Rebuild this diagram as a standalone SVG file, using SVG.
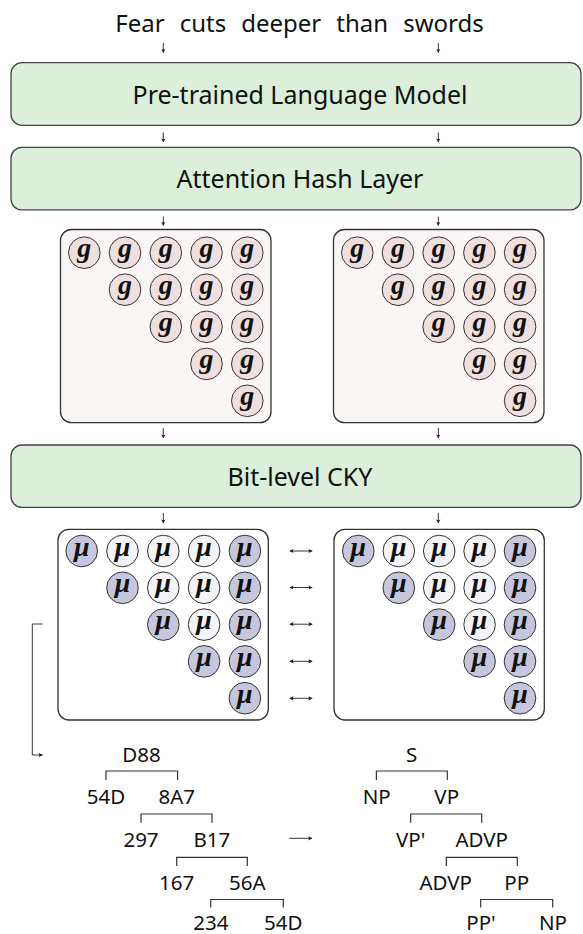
<svg xmlns="http://www.w3.org/2000/svg" width="583" height="934" viewBox="0 0 583 934">
<style>
.box{fill:#dcefdb;stroke:#444;stroke-width:1.3}
.lbl{font-family:"Noto Sans",sans-serif;font-size:25px;text-anchor:middle;fill:#111}
.ttl{font-family:"Noto Sans",sans-serif;font-size:24px;text-anchor:middle;fill:#111;word-spacing:8.8px}
.gp{fill:#faf6f6;stroke:#333;stroke-width:1.3}
.mp{fill:#fff;stroke:#333;stroke-width:1.3}
.gc{fill:#efdfdf;stroke:#333;stroke-width:1}
.md{fill:#c6c7dd;stroke:#333;stroke-width:1}
.ml{fill:#f4f4f8;stroke:#333;stroke-width:1}
.sym{font-family:"Liberation Serif","DejaVu Serif",serif;font-style:italic;font-weight:bold;font-size:28px;text-anchor:middle;fill:#111}
.tl{font-family:"Noto Sans",sans-serif;font-size:20.5px;text-anchor:middle;fill:#111}
.br{fill:none;stroke:#333;stroke-width:1.2}
.ar{fill:none;stroke:#222;stroke-width:0.9;marker-end:url(#ah)}
.dar{fill:none;stroke:#222;stroke-width:0.9;marker-end:url(#ah);marker-start:url(#ah)}
</style>
<defs>
<marker id="ah" markerUnits="userSpaceOnUse" markerWidth="8" markerHeight="8" viewBox="-5 -4 6 8" refX="0" refY="0" orient="auto-start-reverse">
<path d="M0.3,0 L-3.6,-2.1 Q-2.6,0 -3.6,2.1 Z" fill="#222"/>
</marker>
</defs>

<g id="title"><text class="ttl" x="299.5" y="32">Fear cuts deeper than swords</text></g>

<g id="plm"><rect class="box" x="11" y="62.7" width="570" height="62.6" rx="11"/><text class="lbl" x="300" y="103.8">Pre-trained Language Model</text></g>
<g id="ahl"><rect class="box" x="11" y="147.3" width="570" height="62.6" rx="11"/><text class="lbl" x="300" y="188">Attention Hash Layer</text></g>
<g id="cky"><rect class="box" x="11" y="445" width="570" height="62.4" rx="11"/><text class="lbl" x="300" y="485.5">Bit-level CKY</text></g>

<g id="g-left">
<rect class="gp" x="60.5" y="229.5" width="210.5" height="193.2" rx="11"/>
<circle class="gc" cx="84.3" cy="252.7" r="15.8"/><text class="sym" x="84.3" y="256.5">g</text>
<circle class="gc" cx="125" cy="252.7" r="15.8"/><text class="sym" x="125" y="256.5">g</text>
<circle class="gc" cx="165.8" cy="252.7" r="15.8"/><text class="sym" x="165.8" y="256.5">g</text>
<circle class="gc" cx="206.5" cy="252.7" r="15.8"/><text class="sym" x="206.5" y="256.5">g</text>
<circle class="gc" cx="247.3" cy="252.7" r="15.8"/><text class="sym" x="247.3" y="256.5">g</text>
<circle class="gc" cx="125" cy="289.7" r="15.8"/><text class="sym" x="125" y="293.5">g</text>
<circle class="gc" cx="165.8" cy="289.7" r="15.8"/><text class="sym" x="165.8" y="293.5">g</text>
<circle class="gc" cx="206.5" cy="289.7" r="15.8"/><text class="sym" x="206.5" y="293.5">g</text>
<circle class="gc" cx="247.3" cy="289.7" r="15.8"/><text class="sym" x="247.3" y="293.5">g</text>
<circle class="gc" cx="165.8" cy="326.8" r="15.8"/><text class="sym" x="165.8" y="330.6">g</text>
<circle class="gc" cx="206.5" cy="326.8" r="15.8"/><text class="sym" x="206.5" y="330.6">g</text>
<circle class="gc" cx="247.3" cy="326.8" r="15.8"/><text class="sym" x="247.3" y="330.6">g</text>
<circle class="gc" cx="206.5" cy="363.9" r="15.8"/><text class="sym" x="206.5" y="367.7">g</text>
<circle class="gc" cx="247.3" cy="363.9" r="15.8"/><text class="sym" x="247.3" y="367.7">g</text>
<circle class="gc" cx="247.3" cy="400.8" r="15.8"/><text class="sym" x="247.3" y="404.6">g</text>
</g>

<g id="g-right">
<rect class="gp" x="333.5" y="229.5" width="210.5" height="193.2" rx="11"/>
<circle class="gc" cx="357.3" cy="252.7" r="15.8"/><text class="sym" x="357.3" y="256.5">g</text>
<circle class="gc" cx="398" cy="252.7" r="15.8"/><text class="sym" x="398" y="256.5">g</text>
<circle class="gc" cx="438.7" cy="252.7" r="15.8"/><text class="sym" x="438.7" y="256.5">g</text>
<circle class="gc" cx="479.4" cy="252.7" r="15.8"/><text class="sym" x="479.4" y="256.5">g</text>
<circle class="gc" cx="520.1" cy="252.7" r="15.8"/><text class="sym" x="520.1" y="256.5">g</text>
<circle class="gc" cx="398" cy="289.7" r="15.8"/><text class="sym" x="398" y="293.5">g</text>
<circle class="gc" cx="438.7" cy="289.7" r="15.8"/><text class="sym" x="438.7" y="293.5">g</text>
<circle class="gc" cx="479.4" cy="289.7" r="15.8"/><text class="sym" x="479.4" y="293.5">g</text>
<circle class="gc" cx="520.1" cy="289.7" r="15.8"/><text class="sym" x="520.1" y="293.5">g</text>
<circle class="gc" cx="438.7" cy="326.8" r="15.8"/><text class="sym" x="438.7" y="330.6">g</text>
<circle class="gc" cx="479.4" cy="326.8" r="15.8"/><text class="sym" x="479.4" y="330.6">g</text>
<circle class="gc" cx="520.1" cy="326.8" r="15.8"/><text class="sym" x="520.1" y="330.6">g</text>
<circle class="gc" cx="479.4" cy="363.9" r="15.8"/><text class="sym" x="479.4" y="367.7">g</text>
<circle class="gc" cx="520.1" cy="363.9" r="15.8"/><text class="sym" x="520.1" y="367.7">g</text>
<circle class="gc" cx="520.1" cy="400.8" r="15.8"/><text class="sym" x="520.1" y="404.6">g</text>
</g>

<g id="mu-left">
<rect class="mp" x="58" y="529.3" width="210.3" height="190.7" rx="11"/>
<circle class="md" cx="81.7" cy="551" r="15.8"/><text class="sym" x="81.7" y="555.5">μ</text>
<circle class="ml" cx="122.5" cy="551" r="15.8"/><text class="sym" x="122.5" y="555.5">μ</text>
<circle class="ml" cx="163.3" cy="551" r="15.8"/><text class="sym" x="163.3" y="555.5">μ</text>
<circle class="ml" cx="204.1" cy="551" r="15.8"/><text class="sym" x="204.1" y="555.5">μ</text>
<circle class="md" cx="244.9" cy="551" r="15.8"/><text class="sym" x="244.9" y="555.5">μ</text>
<circle class="md" cx="122.5" cy="587.8" r="15.8"/><text class="sym" x="122.5" y="592.3">μ</text>
<circle class="ml" cx="163.3" cy="587.8" r="15.8"/><text class="sym" x="163.3" y="592.3">μ</text>
<circle class="ml" cx="204.1" cy="587.8" r="15.8"/><text class="sym" x="204.1" y="592.3">μ</text>
<circle class="md" cx="244.9" cy="587.8" r="15.8"/><text class="sym" x="244.9" y="592.3">μ</text>
<circle class="md" cx="163.3" cy="624.6" r="15.8"/><text class="sym" x="163.3" y="629.1">μ</text>
<circle class="ml" cx="204.1" cy="624.6" r="15.8"/><text class="sym" x="204.1" y="629.1">μ</text>
<circle class="md" cx="244.9" cy="624.6" r="15.8"/><text class="sym" x="244.9" y="629.1">μ</text>
<circle class="md" cx="204.1" cy="661.4" r="15.8"/><text class="sym" x="204.1" y="665.9">μ</text>
<circle class="md" cx="244.9" cy="661.4" r="15.8"/><text class="sym" x="244.9" y="665.9">μ</text>
<circle class="md" cx="244.9" cy="698.2" r="15.8"/><text class="sym" x="244.9" y="702.7">μ</text>
</g>

<g id="mu-right">
<rect class="mp" x="334" y="529.3" width="210.3" height="190.7" rx="11"/>
<circle class="md" cx="358.3" cy="551" r="15.8"/><text class="sym" x="358.3" y="555.5">μ</text>
<circle class="ml" cx="398.8" cy="551" r="15.8"/><text class="sym" x="398.8" y="555.5">μ</text>
<circle class="ml" cx="439.2" cy="551" r="15.8"/><text class="sym" x="439.2" y="555.5">μ</text>
<circle class="ml" cx="479.6" cy="551" r="15.8"/><text class="sym" x="479.6" y="555.5">μ</text>
<circle class="md" cx="520" cy="551" r="15.8"/><text class="sym" x="520" y="555.5">μ</text>
<circle class="md" cx="398.8" cy="587.8" r="15.8"/><text class="sym" x="398.8" y="592.3">μ</text>
<circle class="ml" cx="439.2" cy="587.8" r="15.8"/><text class="sym" x="439.2" y="592.3">μ</text>
<circle class="ml" cx="479.6" cy="587.8" r="15.8"/><text class="sym" x="479.6" y="592.3">μ</text>
<circle class="md" cx="520" cy="587.8" r="15.8"/><text class="sym" x="520" y="592.3">μ</text>
<circle class="md" cx="439.2" cy="624.6" r="15.8"/><text class="sym" x="439.2" y="629.1">μ</text>
<circle class="ml" cx="479.6" cy="624.6" r="15.8"/><text class="sym" x="479.6" y="629.1">μ</text>
<circle class="md" cx="520" cy="624.6" r="15.8"/><text class="sym" x="520" y="629.1">μ</text>
<circle class="md" cx="479.6" cy="661.4" r="15.8"/><text class="sym" x="479.6" y="665.9">μ</text>
<circle class="md" cx="520" cy="661.4" r="15.8"/><text class="sym" x="520" y="665.9">μ</text>
<circle class="md" cx="520" cy="698.2" r="15.8"/><text class="sym" x="520" y="702.7">μ</text>
</g>

<g id="tree-hash">
<g id="h-D88"><text class="tl" x="141.5" y="761.7">D88</text></g>
<g id="h-54D-a"><text class="tl" x="106" y="804.3">54D</text></g>
<g id="h-8A7"><text class="tl" x="176.7" y="804.3">8A7</text></g>
<g id="h-297"><text class="tl" x="141" y="846.9">297</text></g>
<g id="h-B17"><text class="tl" x="211.8" y="846.9">B17</text></g>
<g id="h-167"><text class="tl" x="176.7" y="889.5">167</text></g>
<g id="h-56A"><text class="tl" x="247.3" y="889.5">56A</text></g>
<g id="h-234"><text class="tl" x="210.8" y="929.5">234</text></g>
<g id="h-54D-b"><text class="tl" x="283.3" y="929.5">54D</text></g>
</g>

<g id="tree-syntax">
<g id="s-S"><text class="tl" x="411.7" y="761.7">S</text></g>
<g id="s-NP-a"><text class="tl" x="376.7" y="804.3">NP</text></g>
<g id="s-VP"><text class="tl" x="446.7" y="804.3">VP</text></g>
<g id="s-VPp"><text class="tl" x="410.7" y="846.9">VP'</text></g>
<g id="s-ADVP-a"><text class="tl" x="481.7" y="846.9">ADVP</text></g>
<g id="s-ADVP-b"><text class="tl" x="445.7" y="889.5">ADVP</text></g>
<g id="s-PP"><text class="tl" x="516.7" y="889.5">PP</text></g>
<g id="s-PPp"><text class="tl" x="481" y="929.5">PP'</text></g>
<g id="s-NP-b"><text class="tl" x="553" y="929.5">NP</text></g>
</g>

<g id="connectors">
<path class="ar" d="M163.3,43 V52.5"/>
<path class="ar" d="M438.3,43 V52.5"/>
<path class="ar" d="M163.3,132.5 V142"/>
<path class="ar" d="M438.3,132.5 V142"/>
<path class="ar" d="M163.3,216.5 V225.5"/>
<path class="ar" d="M438.3,216.5 V225.5"/>
<path class="ar" d="M163.3,428 V438"/>
<path class="ar" d="M438.3,428 V438"/>
<path class="ar" d="M163.3,513 V523"/>
<path class="ar" d="M438.3,513 V523"/>
<path class="dar" d="M289.8,551 H312.2"/>
<path class="dar" d="M289.8,587.5 H312.2"/>
<path class="dar" d="M289.8,624.2 H312.2"/>
<path class="dar" d="M289.8,661.3 H312.2"/>
<path class="dar" d="M289.8,698.3 H312.2"/>
<path class="ar" d="M42.7,624 H32.3 V755 H42.5" stroke-width="1.1"/>
<path class="ar" d="M289.3,838.3 H312"/>
<path class="br" d="M106,780 V771 H177.6 V780"/>
<path class="br" d="M141,822.7 V814 H212 V822.7"/>
<path class="br" d="M176.7,866 V857.3 H247.3 V866"/>
<path class="br" d="M210.7,907.5 V899.5 H283.3 V907.5"/>
<path class="br" d="M376.4,780 V771 H447.3 V780"/>
<path class="br" d="M410.7,822.7 V814 H481.7 V822.7"/>
<path class="br" d="M446.3,866 V857.3 H517.3 V866"/>
<path class="br" d="M480.7,907.5 V899.5 H552.7 V907.5"/>
</g>
</svg>
